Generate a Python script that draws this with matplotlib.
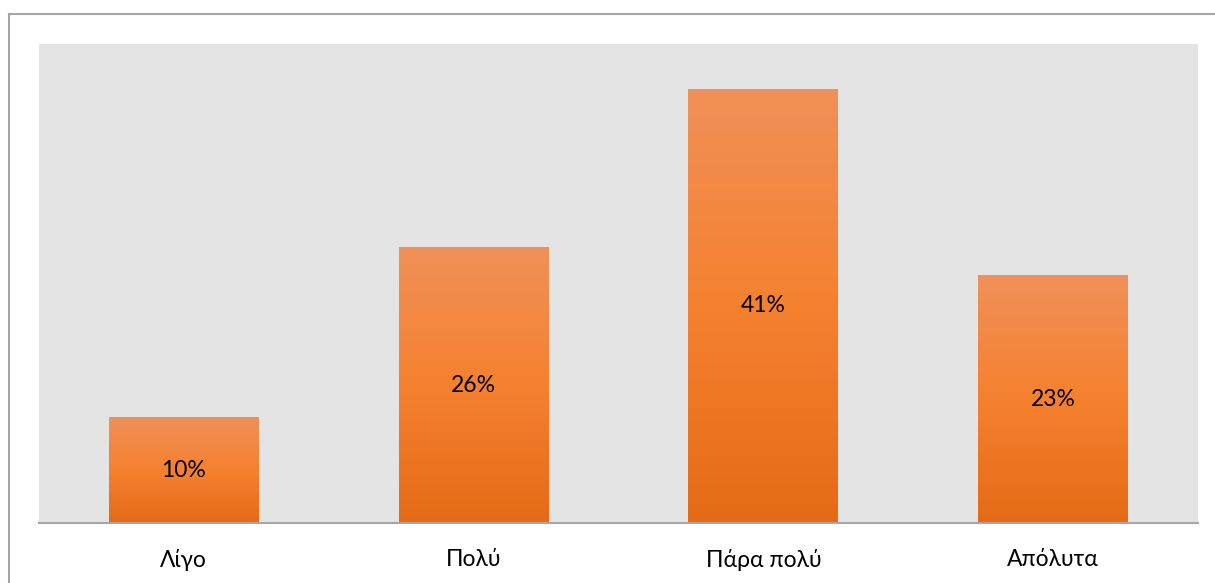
import numpy as np
import matplotlib.pyplot as plt
from matplotlib.colors import LinearSegmentedColormap
from matplotlib.patches import Rectangle

categories = ["Λίγο", "Πολύ", "Πάρα πολύ", "Απόλυτα"]
values = [10, 26, 41, 23.4]
labels = ["10%", "26%", "41%", "23%"]

plt.rcParams['font.family'] = ['Lato', 'DejaVu Sans']

fig = plt.figure(figsize=(12.15, 5.83), dpi=100)
ax = fig.add_axes([39 / 1215, 60 / 583, 1159 / 1215, 479 / 583])
ax.set_facecolor("#e4e4e4")

# outer chart border (cropped at right/bottom like the source)
fig.patches.append(Rectangle((8.5 / 1215, -0.1), 1.2, (583 - 14.5) / 583 + 0.1,
                             transform=fig.transFigure, fill=False,
                             edgecolor="#a6a6a6", linewidth=1.5))

x = np.arange(len(categories))
bars = ax.bar(x, values, width=0.517, color="none", zorder=2)

# vertical orange gradient inside each bar
cmap = LinearSegmentedColormap.from_list("og", ["#e66a16", "#f5812f", "#f09058"])
grad = np.linspace(0, 1, 256).reshape(-1, 1)
for b in bars:
    x0, y0 = b.get_x(), b.get_y()
    w, h = b.get_width(), b.get_height()
    im = ax.imshow(grad, cmap=cmap, origin="lower", aspect="auto",
                   extent=[x0, x0 + w, y0, y0 + h], zorder=2)
    im.set_clip_path(b)

for i, v in enumerate(values):
    ax.text(x[i], v / 2, labels[i], ha="center", va="center", fontsize=16.5, color="black", zorder=3)

ax.set_xlim(-0.5, len(categories) - 0.5)
ax.set_ylim(0, 45.2)
ax.set_xticks(x)
ax.set_xticklabels(categories, fontsize=16.5)
ax.tick_params(axis="x", length=0, pad=19)
ax.set_yticks([])
for s in ["top", "right", "left"]:
    ax.spines[s].set_visible(False)
ax.spines["bottom"].set_color("#a6a6a6")
ax.spines["bottom"].set_linewidth(1.5)
ax.spines["bottom"].set_zorder(4)

fig.savefig("out.png", dpi=100)
